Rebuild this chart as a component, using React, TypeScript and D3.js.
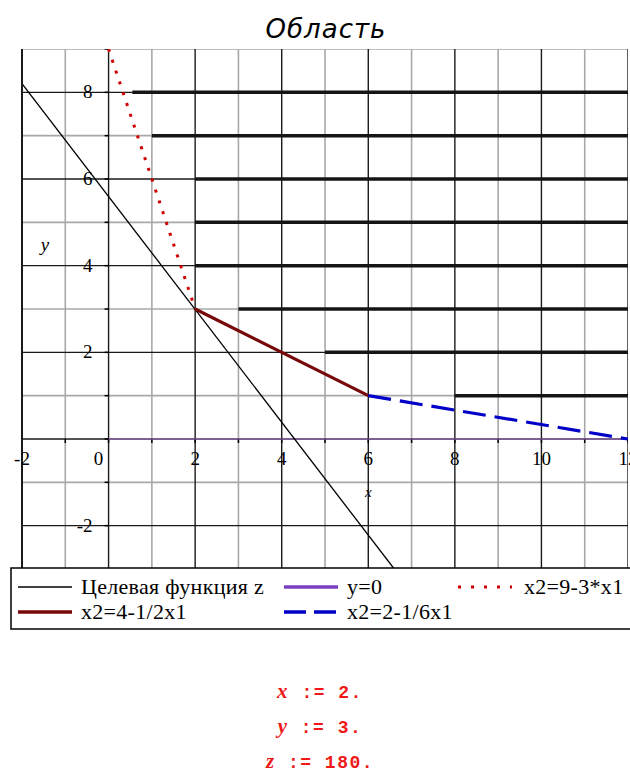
import React, { useRef, useEffect } from "react";
import { select, scaleLinear, line, range } from "d3";

// plot window
const xDomain = [-2, 12];
const yDomain = [-3, 9];

const xTickValues = [-2, 2, 4, 6, 8, 10, 12];
const yTickValues = [8, 6, 4, 2, -2];

// hatching of the feasible region (horizontal strokes)
const hatchY = [8, 7, 6, 5, 4, 3, 2, 1];
const hatchStart = [0.55, 1, 2, 2, 2, 3, 5, 8];

// series
const objectiveX = [-2, 6.6];
const objectiveY = [8.2, -3];
const zeroX = [0, 12];
const zeroY = [0, 0];
const redX = [0, 2];
const redY = [9, 3];
const brownX = [2, 6];
const brownY = [3, 1];
const blueX = [6, 12];
const blueY = [1, 0];

const legendItems = [
  { label: "Целевая функция z", color: "#000000", width: 1.3, dash: null, col: 0, row: 0 },
  { label: "y=0", color: "#7b3fc4", width: 3.5, dash: null, col: 1, row: 0 },
  { label: "x2=9-3*x1", color: "#d00000", width: 3, dash: "3 10", col: 2, row: 0 },
  { label: "x2=4-1/2x1", color: "#780808", width: 3.5, dash: null, col: 0, row: 1 },
  { label: "x2=2-1/6x1", color: "#0000c8", width: 3.5, dash: "22 8", col: 1, row: 1 },
];
const legendCols = [18, 284, 458];

const resultNames = ["x", "y", "z"];
const resultValues = ["2.", "3.", "180."];

const zip = (xs: number[], ys: number[]) => xs.map((x, i) => [x, ys[i]] as [number, number]);

const App = () => {
  const svgRef = useRef<SVGSVGElement>(null);

  useEffect(() => {
    document.body.style.margin = "0";
    const svg = select(svgRef.current);
    svg.selectAll("*").remove();

    const xScale = scaleLinear().domain(xDomain).range([22, 628]);
    const yScale = scaleLinear().domain(yDomain).range([569, 49]);
    const path = line<[number, number]>()
      .x((d) => xScale(d[0]))
      .y((d) => yScale(d[1]));

    svg.append("defs").append("clipPath").attr("id", "plot-clip")
      .append("rect")
      .attr("x", xScale(xDomain[0]))
      .attr("y", yScale(yDomain[1]))
      .attr("width", xScale(xDomain[1]) - xScale(xDomain[0]))
      .attr("height", yScale(yDomain[0]) - yScale(yDomain[1]));

    // title
    svg.append("text")
      .attr("x", 326)
      .attr("y", 38)
      .attr("text-anchor", "middle")
      .attr("font-family", "DejaVu Sans")
      .attr("font-style", "italic")
      .attr("font-size", 26)
      .attr("letter-spacing", 1)
      .text("Область");

    const plot = svg.append("g").attr("clip-path", "url(#plot-clip)");

    // grid: odd values grey, even values black
    const xs = range(xDomain[0], xDomain[1] + 1);
    const ys = range(yDomain[0], yDomain[1] + 1);
    const isMajor = (v: number) => v % 2 === 0;
    const gridV = (vals: number[], cls: string, stroke: string, w: number) =>
      plot.selectAll("." + cls).data(vals).join("line")
        .attr("class", cls)
        .attr("x1", (d) => xScale(d)).attr("x2", (d) => xScale(d))
        .attr("y1", yScale(yDomain[1])).attr("y2", yScale(yDomain[0]))
        .attr("stroke", stroke).attr("stroke-width", w);
    const gridH = (vals: number[], cls: string, stroke: string, w: number) =>
      plot.selectAll("." + cls).data(vals).join("line")
        .attr("class", cls)
        .attr("y1", (d) => yScale(d)).attr("y2", (d) => yScale(d))
        .attr("x1", xScale(xDomain[0])).attr("x2", xScale(xDomain[1]))
        .attr("stroke", stroke).attr("stroke-width", w);
    gridV(xs.filter((v) => !isMajor(v)), "vminor", "#a8a8a8", 1.6);
    gridH(ys.filter((v) => !isMajor(v)), "hminor", "#a8a8a8", 1.6);
    gridV(xs.filter(isMajor), "vmajor", "#1a1a1a", 1.4);
    gridH(ys.filter(isMajor), "hmajor", "#1a1a1a", 1.4);

    // left frame
    svg.append("line")
      .attr("x1", xScale(xDomain[0])).attr("x2", xScale(xDomain[0]))
      .attr("y1", yScale(yDomain[1])).attr("y2", yScale(yDomain[0]))
      .attr("stroke", "#1a1a1a").attr("stroke-width", 2);

    // small ticks on the axes
    plot.selectAll(".xtick").data(xs).join("line")
      .attr("class", "xtick")
      .attr("x1", (d) => xScale(d)).attr("x2", (d) => xScale(d))
      .attr("y1", yScale(0)).attr("y2", yScale(0) + 4)
      .attr("stroke", "#000").attr("stroke-width", 1.5);
    plot.selectAll(".ytick").data(ys).join("line")
      .attr("class", "ytick")
      .attr("y1", (d) => yScale(d)).attr("y2", (d) => yScale(d))
      .attr("x1", xScale(0) - 4).attr("x2", xScale(0))
      .attr("stroke", "#000").attr("stroke-width", 1.5);

    // hatching
    plot.selectAll(".hatch").data(hatchY).join("line")
      .attr("class", "hatch")
      .attr("x1", (d, i) => xScale(hatchStart[i]))
      .attr("x2", xScale(xDomain[1]))
      .attr("y1", (d) => yScale(d)).attr("y2", (d) => yScale(d))
      .attr("stroke", "#151515").attr("stroke-width", 3.5);

    // lines
    plot.append("path").attr("d", path(zip(zeroX, zeroY)))
      .attr("fill", "none").attr("stroke", "#b070e0").attr("stroke-width", 1.6)
      .attr("stroke-opacity", 0.6);
    plot.append("path").attr("d", path(zip(objectiveX, objectiveY)))
      .attr("fill", "none").attr("stroke", "#000").attr("stroke-width", 1.3);
    plot.append("path").attr("d", path(zip(redX, redY)))
      .attr("fill", "none").attr("stroke", "#d00000").attr("stroke-width", 3)
      .attr("stroke-dasharray", "3 8.4");
    plot.append("path").attr("d", path(zip(brownX, brownY)))
      .attr("fill", "none").attr("stroke", "#780808").attr("stroke-width", 3.2);
    plot.append("path").attr("d", path(zip(blueX, blueY)))
      .attr("fill", "none").attr("stroke", "#0000c8").attr("stroke-width", 3.2)
      .attr("stroke-dasharray", "23 9");

    // tick labels
    const labels = svg.append("g")
      .attr("font-family", "Liberation Serif")
      .attr("font-size", 19)
      .attr("fill", "#000");
    labels.selectAll(".xlab").data(xTickValues).join("text")
      .attr("class", "xlab")
      .attr("x", (d) => xScale(d))
      .attr("y", yScale(0) + 26)
      .attr("text-anchor", "middle")
      .text((d) => String(d));
    labels.append("text")
      .attr("x", xScale(0) - 10)
      .attr("y", yScale(0) + 26)
      .attr("text-anchor", "middle")
      .text("0");
    labels.selectAll(".ylab").data(yTickValues).join("text")
      .attr("class", "ylab")
      .attr("x", xScale(0) - 16)
      .attr("y", (d) => yScale(d) + 6)
      .attr("text-anchor", "end")
      .text((d) => String(d));

    // axis names
    labels.append("text")
      .attr("x", 45).attr("y", 251)
      .attr("font-style", "italic")
      .attr("text-anchor", "middle")
      .text("y");
    labels.append("text")
      .attr("x", xScale(6)).attr("y", 497)
      .attr("font-style", "italic")
      .attr("font-size", 15)
      .attr("text-anchor", "middle")
      .text("x");

    // legend
    const legend = svg.append("g");
    legend.append("rect")
      .attr("x", 11).attr("y", 568)
      .attr("width", 640).attr("height", 61)
      .attr("fill", "#fff").attr("stroke", "#000").attr("stroke-width", 1.5);
    legendItems.forEach((item) => {
      const x0 = legendCols[item.col];
      const y0 = 587 + item.row * 25;
      legend.append("line")
        .attr("x1", x0).attr("x2", x0 + 54)
        .attr("y1", y0).attr("y2", y0)
        .attr("stroke", item.color)
        .attr("stroke-width", item.width)
        .attr("stroke-dasharray", item.dash);
      legend.append("text")
        .attr("x", x0 + (item.col === 2 ? 66 : 63))
        .attr("y", y0 + 7)
        .attr("font-family", "Liberation Serif")
        .attr("font-size", 22)
        .attr("letter-spacing", 0.3)
        .text(item.label);
    });

    // results
    const results = svg.append("g")
      .attr("font-family", "Liberation Mono")
      .attr("font-weight", "bold")
      .attr("font-size", 18)
      .attr("fill", "#f01818");
    resultNames.forEach((name, i) => {
      const t = results.append("text")
        .attr("x", 320)
        .attr("y", 698 + i * 35)
        .attr("text-anchor", "middle")
        .attr("letter-spacing", 1.5);
      t.append("tspan").attr("font-style", "italic").attr("font-family", "Liberation Serif")
        .attr("font-size", 21).text(name);
      t.append("tspan").text(" := " + resultValues[i]);
    });
  }, []);

  return <svg ref={svgRef} width={630} height={772} style={{ display: "block" }} />;
};

export default App;
